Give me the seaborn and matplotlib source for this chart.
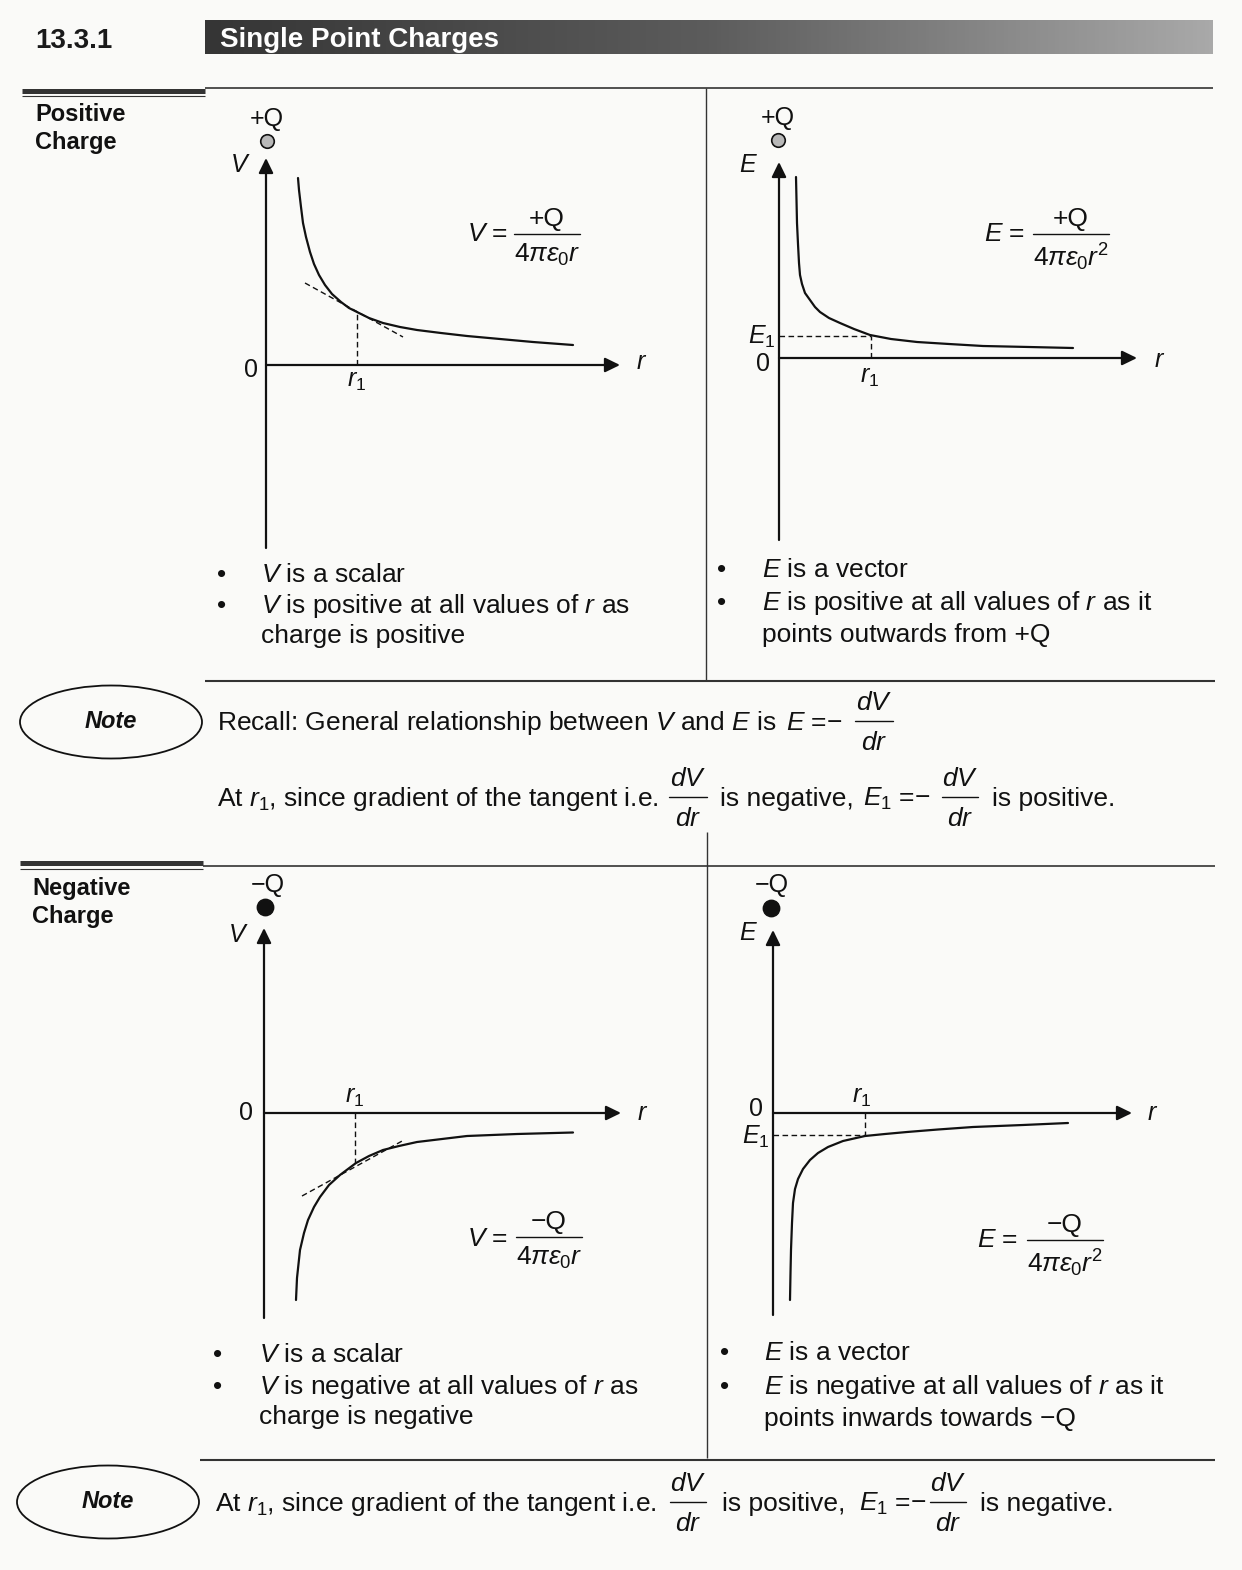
import matplotlib
matplotlib.use('Agg')
import numpy as np
import matplotlib.pyplot as plt
import seaborn as sns
from matplotlib.patches import Ellipse
from matplotlib.colors import LinearSegmentedColormap

# Curves: 1 unit = 10 px, origin where the two axes cross
pos_v_r = [3.2, 3.3, 3.5, 3.7, 4.0, 4.4, 4.8, 5.3, 5.9, 6.6, 7.5, 8.3, 9.1, 10.3, 11.7,
           13.4, 15.1, 17.5, 20.1, 23.4, 26.7, 30.7]
pos_v_val = [18.7, 17.5, 15.8, 14.2, 12.8, 11.3, 10.1, 9.0, 8.0, 7.1, 6.3, 5.7, 5.3, 4.7, 4.2,
             3.8, 3.5, 3.2, 2.9, 2.6, 2.3, 2.0]
pos_v_tan_r = [3.9, 13.7]
pos_v_tan_val = [8.2, 2.8]
pos_v_r1, pos_v_at_r1 = 9.1, 5.3

pos_e_r = [1.7, 1.75, 1.8, 1.9, 2.0, 2.1, 2.3, 2.6, 3.1, 3.6, 4.1, 5.0, 6.1, 7.5, 9.1,
           11.2, 13.8, 17.0, 20.4, 25.0, 29.4]
pos_e_val = [18.1, 15.8, 13.5, 11.4, 9.5, 8.3, 7.4, 6.5, 5.8, 5.1, 4.6, 4.0, 3.5, 2.9, 2.3,
             1.9, 1.6, 1.4, 1.2, 1.1, 1.0]
pos_e_r1, pos_e_1 = 9.2, 2.2

neg_v_r = [3.2, 3.3, 3.6, 4.0, 4.4, 5.0, 5.6, 6.5, 7.6, 9.2, 10.5, 11.9, 13.5, 15.3, 17.8,
           20.3, 25.3, 30.9]
neg_v_val = [-18.7, -16.5, -13.7, -12.0, -10.7, -9.4, -8.4, -7.2, -6.2, -5.0, -4.3, -3.7,
             -3.3, -2.9, -2.6, -2.3, -2.1, -1.95]
neg_v_tan_r = [3.8, 14.0]
neg_v_tan_val = [-8.3, -2.7]
neg_v_r1, neg_v_at_r1 = 9.1, -5.0

neg_e_r = [1.7, 1.75, 1.8, 1.9, 2.0, 2.2, 2.5, 3.0, 3.7, 4.5, 5.5, 7.0, 9.2, 11.2, 13.4,
           16.5, 20.0, 25.0, 29.5]
neg_e_val = [-18.7, -16.0, -13.7, -11.0, -9.0, -7.6, -6.6, -5.6, -4.7, -4.0, -3.4, -2.8,
             -2.3, -2.1, -1.9, -1.65, -1.4, -1.2, -1.0]
neg_e_r1, neg_e_1 = 9.2, -2.2

bullets_pos_v = ['$V$ is a scalar', '$V$ is positive at all values of $r$ as', 'charge is positive']
bullets_pos_e = ['$E$ is a vector', '$E$ is positive at all values of $r$ as it', 'points outwards from +Q']
bullets_neg_v = ['$V$ is a scalar', '$V$ is negative at all values of $r$ as', 'charge is negative']
bullets_neg_e = ['$E$ is a vector', '$E$ is negative at all values of $r$ as it', 'points inwards towards \u2212Q']

sns.set_theme(style='white')
plt.rcParams['font.family'] = ['Liberation Sans', 'DejaVu Sans']
plt.rcParams['mathtext.fontset'] = 'custom'
plt.rcParams['mathtext.rm'] = 'Liberation Sans'
plt.rcParams['mathtext.it'] = 'Liberation Sans:italic'
plt.rcParams['mathtext.bf'] = 'Liberation Sans:bold'
plt.rcParams['mathtext.fallback'] = 'stixsans'
plt.rcParams['text.color'] = '#111111'

W, H = 1242, 1570
FS = 19
fig = plt.figure(figsize=(W / 100, H / 100), dpi=100, facecolor='#fafaf8')
page = fig.add_axes([0, 0, 1, 1])
page.axis('off')

# header bar
cmap = LinearSegmentedColormap.from_list('bar', ['#353535', '#5c5c5c', '#a9a9a9'])
page.imshow(np.linspace(0, 1, 256)[None, :], cmap=cmap, extent=(205, 1213, 54, 20), aspect='auto')
page.set_xlim(0, W)
page.set_ylim(H, 0)
page.text(35, 48, '13.3.1', fontsize=20, fontweight='bold', color='#1a1a1a')
page.text(220, 47, 'Single Point Charges', fontsize=20, fontweight='bold', color='white')

ln = dict(color='#333333', solid_capstyle='butt')
# section rules
page.plot([22, 205], [90.5, 90.5], lw=3.6, **ln)
page.plot([22, 205], [96, 96], lw=0.8, **ln)
page.plot([205, 1213], [88, 88], lw=1.2, **ln)
page.plot([706, 706], [88, 680], lw=1.0, **ln)
page.plot([205, 1215], [681, 681], lw=1.5, **ln)
page.plot([707, 707], [832, 1458], lw=1.0, **ln)
page.plot([20, 203], [863, 863], lw=3.6, **ln)
page.plot([20, 203], [868.5, 868.5], lw=0.8, **ln)
page.plot([203, 1215], [866, 866], lw=1.2, **ln)
page.plot([200, 1215], [1460, 1460], lw=1.5, **ln)

page.text(35, 121, 'Positive', fontsize=17, fontweight='bold')
page.text(35, 149, 'Charge', fontsize=17, fontweight='bold')
page.text(32, 895, 'Negative', fontsize=17, fontweight='bold')
page.text(32, 923, 'Charge', fontsize=17, fontweight='bold')


def frac(x, y, num, den, half, up, down, fs=FS):
    page.text(x, y - up, num, ha='center', va='baseline', fontsize=fs)
    page.plot([x - half, x + half], [y, y], color='#111111', lw=1.0)
    page.text(x, y + down, den, ha='center', va='top', fontsize=fs)


def bullets(xb, xt, baselines, lines, with_dot):
    for yb, s, dot in zip(baselines, lines, with_dot):
        if dot:
            page.text(xb, yb, '\u2022', ha='center', va='baseline', fontsize=FS)
        page.text(xt, yb, s, va='baseline', fontsize=FS)


bullets(222, 261, [582, 613, 643], bullets_pos_v, [1, 1, 0])
bullets(722, 762, [577, 610, 642], bullets_pos_e, [1, 1, 0])
bullets(218, 259, [1362, 1394, 1424], bullets_neg_v, [1, 1, 0])
bullets(725, 764, [1360, 1394, 1426], bullets_neg_e, [1, 1, 0])

# formulas
page.text(508, 241, '$V$ =', ha='right', va='baseline', fontsize=FS)
frac(547, 234, '+Q', r'$4\pi\varepsilon_0 r$', 33, 8, 8)
page.text(1025, 241, '$E$ =', ha='right', va='baseline', fontsize=FS)
frac(1071, 234, '+Q', r'$4\pi\varepsilon_0 r^2$', 38, 8, 8)
page.text(508, 1246, '$V$ =', ha='right', va='baseline', fontsize=FS)
frac(549, 1237, '\u2212Q', r'$4\pi\varepsilon_0 r$', 33, 8, 8)
page.text(1018, 1247, '$E$ =', ha='right', va='baseline', fontsize=FS)
frac(1065, 1240, '\u2212Q', r'$4\pi\varepsilon_0 r^2$', 38, 8, 8)

# notes
for cx, cy in [(111, 722), (108, 1502)]:
    page.add_patch(Ellipse((cx, cy), 182, 73, fill=False, lw=1.3, ec='#111111'))
    page.text(cx, cy - 1, 'Note', ha='center', va='center', fontsize=17,
              fontweight='bold', fontstyle='italic')

page.text(217, 730, 'Recall: General relationship between $V$ and $E$ is', va='baseline', fontsize=FS)
page.text(786, 730, '$E$ =\u2212', va='baseline', fontsize=FS)
frac(874, 721, '$dV$', '$dr$', 19, 11, 10)

page.text(217, 806, 'At $r_1$, since gradient of the tangent i.e.', va='baseline', fontsize=FS)
frac(688, 797, '$dV$', '$dr$', 19, 11, 10)
page.text(720, 806, 'is negative,', va='baseline', fontsize=FS)
page.text(863, 806, '$E_1$ =\u2212', va='baseline', fontsize=FS)
frac(960, 797, '$dV$', '$dr$', 18, 11, 10)
page.text(992, 806, 'is positive.', va='baseline', fontsize=FS)

page.text(215, 1511, 'At $r_1$, since gradient of the tangent i.e.', va='baseline', fontsize=FS)
frac(688, 1502, '$dV$', '$dr$', 18, 11, 10)
page.text(722, 1511, 'is positive,', va='baseline', fontsize=FS)
page.text(859, 1511, '$E_1$ =\u2212', va='baseline', fontsize=FS)
frac(948, 1502, '$dV$', '$dr$', 18, 11, 10)
page.text(980, 1511, 'is negative.', va='baseline', fontsize=FS)


def graph(ox, oy, ybot, ytop, xtip):
    ax = fig.add_axes([(ox - 70) / W, 1 - (oy + 220) / H, 510 / W, 500 / H])
    ax.set_xlim(-7, 44)
    ax.set_ylim(-22, 28)
    ax.axis('off')
    kw = dict(arrowstyle='-|>,head_length=0.45,head_width=0.22', color='#111111', lw=1.6,
              mutation_scale=20, shrinkA=0, shrinkB=0)
    ax.annotate('', xy=(0, ytop), xytext=(0, ybot), arrowprops=kw)
    ax.annotate('', xy=(xtip, 0), xytext=(0, 0), arrowprops=kw)
    return ax


dash = dict(color='#111111', lw=1.0, ls=(0, (4, 2.5)))
curve = dict(color='#111111', lw=1.6, errorbar=None, legend=False)
lab = dict(ha='center', va='center', fontsize=18)

# positive V
ax1 = graph(266, 365, -18.3, 20.7, 35.4)
sns.lineplot(x=pos_v_r, y=pos_v_val, ax=ax1, **curve)
ax1.plot(pos_v_tan_r, pos_v_tan_val, **dash)
ax1.plot([pos_v_r1, pos_v_r1], [0, pos_v_at_r1], **dash)
sns.scatterplot(x=[0.1], y=[22.4], ax=ax1, s=95, color='#b8b8b8', edgecolor='#111111', linewidth=1.2)
ax1.text(0.1, 24.6, '+Q', **lab)
ax1.text(-2.6, 20.0, '$V$', **lab)
ax1.text(-1.5, -0.5, '0', **lab)
ax1.text(9.1, -1.6, '$r_1$', **lab)
ax1.text(37.6, 0.3, '$r$', **lab)

# positive E
ax2 = graph(779, 358, -18.2, 19.6, 35.8)
sns.lineplot(x=pos_e_r, y=pos_e_val, ax=ax2, **curve)
ax2.plot([0, pos_e_r1], [pos_e_1, pos_e_1], **dash)
ax2.plot([pos_e_r1, pos_e_r1], [0, pos_e_1], **dash)
sns.scatterplot(x=[-0.1], y=[21.8], ax=ax2, s=95, color='#b8b8b8', edgecolor='#111111', linewidth=1.2)
ax2.text(-0.1, 24.0, '+Q', **lab)
ax2.text(-3.1, 19.3, '$E$', **lab)
ax2.text(-0.3, 2.1, '$E_1$', ha='right', va='center', fontsize=18)
ax2.text(-0.9, -0.6, '0', ha='right', va='center', fontsize=18)
ax2.text(9.1, -1.9, '$r_1$', **lab)
ax2.text(38.1, -0.2, '$r$', **lab)

# negative V
ax3 = graph(264, 1113, -20.5, 18.5, 35.7)
sns.lineplot(x=neg_v_r, y=neg_v_val, ax=ax3, **curve)
ax3.plot(neg_v_tan_r, neg_v_tan_val, **dash)
ax3.plot([neg_v_r1, neg_v_r1], [0, neg_v_at_r1], **dash)
sns.scatterplot(x=[0.1], y=[20.6], ax=ax3, s=140, color='#111111', edgecolor='#111111', linewidth=1)
ax3.text(0.4, 22.8, '\u2212Q', **lab)
ax3.text(-2.6, 17.8, '$V$', **lab)
ax3.text(-1.8, 0, '0', **lab)
ax3.text(9.1, 1.6, '$r_1$', **lab)
ax3.text(37.9, 0, '$r$', **lab)

# negative E
ax4 = graph(773, 1113, -20.2, 18.3, 35.9)
sns.lineplot(x=neg_e_r, y=neg_e_val, ax=ax4, **curve)
ax4.plot([0, neg_e_r1], [neg_e_1, neg_e_1], **dash)
ax4.plot([neg_e_r1, neg_e_r1], [0, neg_e_1], **dash)
sns.scatterplot(x=[-0.2], y=[20.5], ax=ax4, s=140, color='#111111', edgecolor='#111111', linewidth=1)
ax4.text(-0.1, 22.8, '\u2212Q', **lab)
ax4.text(-2.5, 18.0, '$E$', **lab)
ax4.text(-1.7, 0.4, '0', **lab)
ax4.text(-0.3, -2.4, '$E_1$', ha='right', va='center', fontsize=18)
ax4.text(8.9, 1.6, '$r_1$', **lab)
ax4.text(38.0, 0, '$r$', **lab)

fig.savefig('out.png', dpi=100, facecolor=fig.get_facecolor())
